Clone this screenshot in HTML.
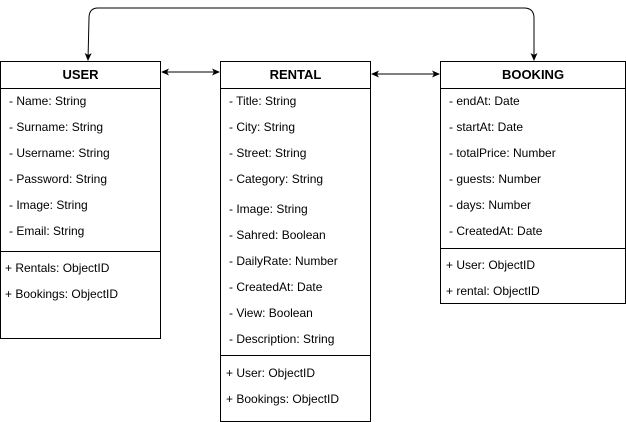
<!DOCTYPE html>
<html><head><meta charset="utf-8"><style>
body{margin:0;width:626px;height:422px;background:#fff;position:relative;overflow:hidden;font-family:"Liberation Sans",Arial,sans-serif;font-size:12px;color:#000}
.b{position:absolute;border:1px solid #000;box-sizing:border-box;background:#fff}
.h{position:absolute;left:0;right:0;top:0;height:26px;border-bottom:1px solid #000;font-weight:bold;font-size:13px;text-align:center;line-height:26px}
.d{position:absolute;left:0;right:0;border-top:1px solid #000}
.t{position:absolute;white-space:nowrap;line-height:14px;margin-top:-1px}
svg{position:absolute;left:0;top:0}
</style></head><body>
<svg width="626" height="422">
<defs><marker id="a" markerWidth="8" markerHeight="8" refX="7" refY="4" orient="auto" markerUnits="userSpaceOnUse"><path d="M0,0.5 L8,4 L0,7.5 L2,4z" fill="#000"/></marker>
<marker id="s" markerWidth="8" markerHeight="8" refX="1" refY="4" orient="auto" markerUnits="userSpaceOnUse"><path d="M8,0.5 L0,4 L8,7.5 L6,4z" fill="#000"/></marker></defs>
<path d="M534,60 L534,18 Q534,8 524,8 L98,8 Q89,8 89,18 L88,60" fill="none" stroke="#000" stroke-width="1" marker-start="url(#s)" marker-end="url(#a)"/>
<line x1="162" y1="72" x2="219" y2="72" stroke="#000" marker-start="url(#s)" marker-end="url(#a)"/>
<line x1="372" y1="74" x2="439" y2="74" stroke="#000" marker-start="url(#s)" marker-end="url(#a)"/>
</svg>
<div class="b" style="left:0;top:61px;width:161px;height:278px">
<div class="h">USER</div>
<div class="t" style="left:8px;top:33px">- Name: String</div>
<div class="t" style="left:8px;top:59px">- Surname: String</div>
<div class="t" style="left:8px;top:85px">- Username: String</div>
<div class="t" style="left:8px;top:111px">- Password: String</div>
<div class="t" style="left:8px;top:137px">- Image: String</div>
<div class="t" style="left:8px;top:163px">- Email: String</div>
<div class="d" style="top:189px"></div>
<div class="t" style="left:4px;top:200px">+ Rentals: ObjectID</div>
<div class="t" style="left:4px;top:226px">+ Bookings: ObjectID</div>
</div>
<div class="b" style="left:220px;top:61px;width:151px;height:361px">
<div class="h">RENTAL</div>
<div class="t" style="left:8px;top:33px">- Title: String</div>
<div class="t" style="left:8px;top:59px">- City: String</div>
<div class="t" style="left:8px;top:85px">- Street: String</div>
<div class="t" style="left:8px;top:111px">- Category: String</div>
<div class="t" style="left:8px;top:141px">- Image: String</div>
<div class="t" style="left:8px;top:167px">- Sahred: Boolean</div>
<div class="t" style="left:8px;top:193px">- DailyRate: Number</div>
<div class="t" style="left:8px;top:219px">- CreatedAt: Date</div>
<div class="t" style="left:8px;top:245px">- View: Boolean</div>
<div class="t" style="left:8px;top:271px">- Description: String</div>
<div class="d" style="top:293px"></div>
<div class="t" style="left:5px;top:305px">+ User: ObjectID</div>
<div class="t" style="left:5px;top:331px">+ Bookings: ObjectID</div>
</div>
<div class="b" style="left:440px;top:61px;width:186px;height:243px">
<div class="h">BOOKING</div>
<div class="t" style="left:8px;top:33px">- endAt: Date</div>
<div class="t" style="left:8px;top:59px">- startAt: Date</div>
<div class="t" style="left:8px;top:85px">- totalPrice: Number</div>
<div class="t" style="left:8px;top:111px">- guests: Number</div>
<div class="t" style="left:8px;top:137px">- days: Number</div>
<div class="t" style="left:8px;top:163px">- CreatedAt: Date</div>
<div class="d" style="top:186px"></div>
<div class="t" style="left:5px;top:197px">+ User: ObjectID</div>
<div class="t" style="left:5px;top:223px">+ rental: ObjectID</div>
</div>
</body></html>
